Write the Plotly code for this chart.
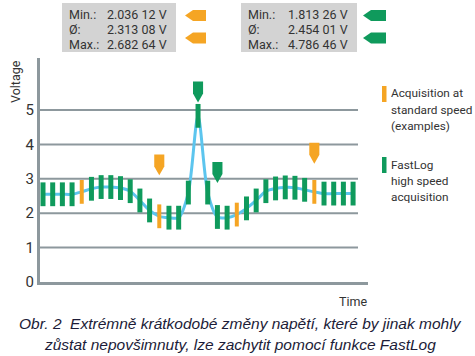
import plotly.graph_objects as go

# ---------------- data ----------------
t = list(range(33))
voltage = [2.55, 2.55, 2.55, 2.55, 2.62, 2.71, 2.76, 2.76, 2.73, 2.64,
           2.37, 2.08, 1.91, 1.87, 1.87, 2.60, 4.83, 2.60, 1.89, 1.87,
           1.96, 2.14, 2.37, 2.64, 2.72, 2.75, 2.74, 2.68, 2.62, 2.57,
           2.57, 2.57, 2.57]
standard_idx = [4, 12, 20, 28]
y_ticks = [0, 1, 2, 3, 4, 5]

orange_arrow_idx = [12, 28]
orange_arrow_tip = [3.10, 3.44]
green_arrow_idx = [16, 18]
green_arrow_tip = [5.22, 2.88]

stats_std = [("Min.:", "2.036 12 V"), ("Ø:", "2.313 08 V"), ("Max.:", "2.682 64 V")]
stats_fast = [("Min.:", "1.813 26 V"), ("Ø:", "2.454 01 V"), ("Max.:", "4.786 46 V")]

caption = ["Obr. 2  Extrémně krátkodobé změny napětí, které by jinak mohly",
           "zůstat nepovšimnuty, lze zachytit pomocí funkce FastLog"]

# ---------------- style ----------------
W, H = 475, 356
L, R, T, B = 40, 368, 58, 282
GREEN = "#0f9a5c"
ORANGE = "#f5a524"
BLUE = "#5cc5ee"
GRID = "#8d989d"
TXT = "#333333"
SANS = "Roboto, Liberation Sans, sans-serif"


def px(x):
    return (x - L) / (R - L)


def py(y):
    return (B - y) / (B - T)


x_rng = [(L - 43) / 9.69, (R - 43) / 9.69]
y_rng = [0, (B - T) / 34.4]

fig = go.Figure()

fig.add_trace(go.Scatter(x=t, y=voltage, mode="lines",
                         line=dict(color=BLUE, width=3, shape="spline", smoothing=0.8),
                         hoverinfo="skip", showlegend=False))

g_x = [i for i in t if i not in standard_idx]
g_y = [voltage[i] for i in g_x]
o_x = standard_idx
o_y = [voltage[i] for i in o_x]

fig.add_trace(go.Scatter(x=g_x, y=g_y, mode="markers", showlegend=False,
                         marker=dict(symbol="line-ns", size=17,
                                     line=dict(color=GREEN, width=5))))
fig.add_trace(go.Scatter(x=o_x, y=o_y, mode="markers", showlegend=False,
                         marker=dict(symbol="line-ns", size=17,
                                     line=dict(color=ORANGE, width=4))))

shapes = []
# grid lines
for v in y_ticks[1:]:
    shapes.append(dict(type="line", xref="paper", yref="y", x0=0, x1=px(358),
                       y0=v, y1=v, line=dict(color=GRID, width=2), layer="below"))


def down_arrow(xc, tip, color):
    hw = 0.52
    h = 0.61
    top = tip + h
    sh = tip + h * 0.42
    path = (f"M {xc-hw},{top} L {xc+hw},{top} L {xc+hw},{sh} "
            f"L {xc},{tip} L {xc-hw},{sh} Z")
    return dict(type="path", xref="x", yref="y", path=path,
                fillcolor=color, line=dict(width=0))


for i, tp in zip(orange_arrow_idx, orange_arrow_tip):
    shapes.append(down_arrow(i, tp, ORANGE))
for i, tp in zip(green_arrow_idx, green_arrow_tip):
    shapes.append(down_arrow(i, tp, GREEN))

# stats boxes
for x0, x1 in [(62, 176), (241, 357)]:
    shapes.append(dict(type="rect", xref="paper", yref="paper",
                       x0=px(x0), x1=px(x1), y0=py(52), y1=py(3),
                       fillcolor="#d3d3d3", line=dict(width=0)))


def left_arrow(x0, x1, yc, color):
    hh = 5.5
    pt = x0 + 8
    pts = [(x0, yc), (pt, yc - hh), (x1, yc - hh), (x1, yc + hh), (pt, yc + hh)]
    path = "M " + " L ".join(f"{px(a)},{py(b)}" for a, b in pts) + " Z"
    return dict(type="path", xref="paper", yref="paper", path=path,
                fillcolor=color, line=dict(width=0))


for yc in (15.5, 38):
    shapes.append(left_arrow(185, 206, yc, ORANGE))
    shapes.append(left_arrow(363, 386, yc, GREEN))

# legend bars
shapes.append(dict(type="rect", xref="paper", yref="paper", x0=px(382), x1=px(386.5),
                   y0=py(102), y1=py(86), fillcolor=ORANGE, line=dict(width=0)))
shapes.append(dict(type="rect", xref="paper", yref="paper", x0=px(382), x1=px(386.5),
                   y0=py(173), y1=py(157), fillcolor=GREEN, line=dict(width=0)))

ann = []
rows_y = [14, 29.5, 44.5]
for (lab, val), yy in zip(stats_std, rows_y):
    ann.append(dict(x=px(67), y=py(yy), text=lab, xanchor="left"))
    ann.append(dict(x=px(169), y=py(yy), text=val, xanchor="right"))
for (lab, val), yy in zip(stats_fast, rows_y):
    ann.append(dict(x=px(246), y=py(yy), text=lab, xanchor="left"))
    ann.append(dict(x=px(350), y=py(yy), text=val, xanchor="right"))

for a in ann:
    a.update(xref="paper", yref="paper", yanchor="middle", showarrow=False,
             font=dict(family=SANS, size=12.5, color=TXT))

legend_txt = [(93, "Acquisition at"), (110, "standard speed"), (126, "(examples)"),
              (165, "FastLog"), (181, "high speed"), (197, "acquisition")]
for yy, tx in legend_txt:
    ann.append(dict(xref="paper", yref="paper", x=px(389), y=py(yy), text=tx,
                    xanchor="left", yanchor="middle", showarrow=False,
                    font=dict(family=SANS, size=11.8, color=TXT)))

ann.append(dict(xref="paper", yref="paper", x=px(369), y=py(301.5), text="Time",
                xanchor="right", yanchor="middle", showarrow=False,
                font=dict(family=SANS, size=12.5, color=TXT)))
ann.append(dict(xref="paper", yref="paper", x=px(16), y=py(82), text="Voltage",
                textangle=-90, xanchor="center", yanchor="middle", showarrow=False,
                font=dict(family=SANS, size=12.5, color=TXT)))
for yy, tx in zip([323, 344], caption):
    ann.append(dict(xref="paper", yref="paper", x=px(240), y=py(yy),
                    text=f"<i>{tx}</i>", xanchor="center", yanchor="middle",
                    showarrow=False,
                    font=dict(family="Liberation Sans, Arial, sans-serif",
                              size=15.5, color="#1c1c38")))

fig.update_layout(
    width=W, height=H,
    margin=dict(l=L, r=W - R, t=T, b=H - B, pad=0),
    paper_bgcolor="white", plot_bgcolor="white",
    shapes=shapes, annotations=ann,
    xaxis=dict(range=x_rng, showgrid=False, zeroline=False, showticklabels=False,
               showline=True, linecolor=GRID, linewidth=3, ticks=""),
    yaxis=dict(range=y_rng, showgrid=False, zeroline=False, tickvals=y_ticks,
               showline=True, linecolor=GRID, linewidth=3, ticks="",
               tickfont=dict(family=SANS, size=15, color=TXT)),
)

fig.write_html("out.html", config={"displayModeBar": False},
               post_script="document.body.style.margin='0';document.body.style.overflow='hidden';")
